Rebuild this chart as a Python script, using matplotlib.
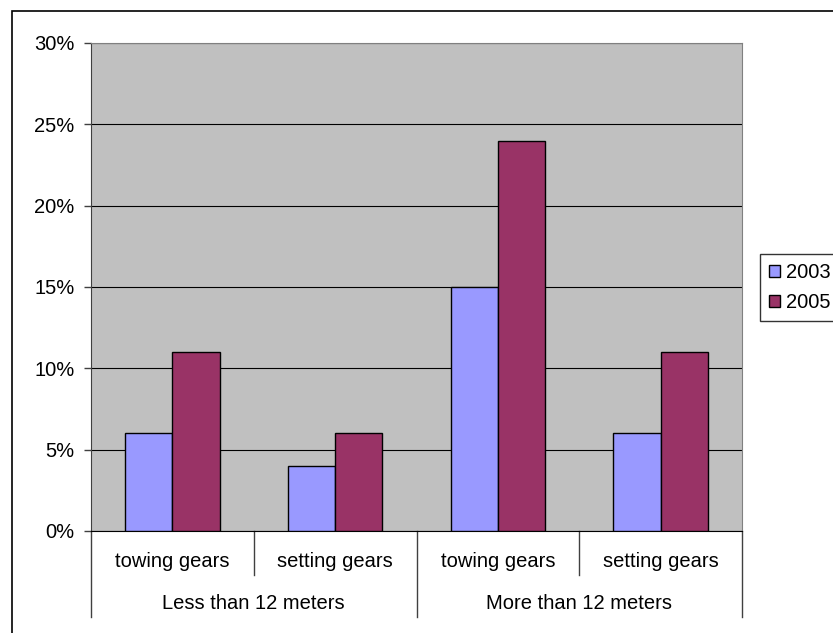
import matplotlib.pyplot as plt
from matplotlib.patches import Rectangle, Patch
from matplotlib.ticker import PercentFormatter
import numpy as np

plt.rcParams['font.family'] = ['Liberation Sans', 'DejaVu Sans']

groups = ['Less than 12 meters', 'More than 12 meters']
subcats = ['towing gears', 'setting gears', 'towing gears', 'setting gears']
years = ['2003', '2005']
v2003 = [6, 4, 15, 6]
v2005 = [11, 6, 24, 11]
colors = ['#9999FF', '#993366']

W, H = 833, 633
fs = 14.5
fig = plt.figure(figsize=(W / 100, H / 100), dpi=100)

# outer chart frame (right and bottom run off the picture)
fig.patches.append(Rectangle((12 / W, -0.1), 1.2, 1 - 10.5 / H + 0.1,
                             transform=fig.transFigure, fill=False,
                             edgecolor='black', linewidth=1.2))

ax = fig.add_axes([91 / W, (H - 531) / H, 651 / W, 488 / H])
ax.set_facecolor('#C0C0C0')

x = np.arange(len(subcats))
bw = 0.29
ax.bar(x - bw / 2, v2003, bw, color=colors[0], edgecolor='black', linewidth=1, zorder=3)
ax.bar(x + bw / 2, v2005, bw, color=colors[1], edgecolor='black', linewidth=1, zorder=3)

ax.set_xlim(-0.5, 3.5)
ax.set_ylim(0, 30)
ax.set_yticks(range(0, 31, 5))
ax.yaxis.set_major_formatter(PercentFormatter(decimals=0))
ax.grid(axis='y', color='black', linewidth=0.8, zorder=1)
ax.tick_params(axis='y', length=5, width=1, pad=7, labelsize=fs, color='#404040')
ax.set_xticks([])
for s in ['top', 'right']:
    ax.spines[s].set_color('#808080')
ax.spines['left'].set_color('#404040')
ax.spines['bottom'].set_color('black')

# two-level category axis
tr = ax.get_xaxis_transform()
for b in [-0.5, 0.5, 1.5, 2.5, 3.5]:
    low = -0.176 if b in (-0.5, 1.5, 3.5) else -0.09
    ax.plot([b, b], [0, low], color='#404040', linewidth=1, transform=tr, clip_on=False)
for i, lab in enumerate(subcats):
    ax.text(i, -0.063, lab, transform=tr, ha='center', va='center', fontsize=fs)
for j, g in enumerate(groups):
    ax.text(2 * j + 0.5, -0.148, g, transform=tr, ha='center', va='center', fontsize=fs)

handles = [Patch(facecolor=c, edgecolor='black') for c in colors]
fig.legend(handles, years, loc='upper left', bbox_to_anchor=(760 / W, 1 - 254 / H),
           bbox_transform=fig.transFigure, frameon=True, fancybox=False,
           edgecolor='black', fontsize=fs, handlelength=0.55, handleheight=0.55,
           handletextpad=0.3, borderpad=0.45, labelspacing=0.55, borderaxespad=0)

fig.savefig('out.png', dpi=100)
